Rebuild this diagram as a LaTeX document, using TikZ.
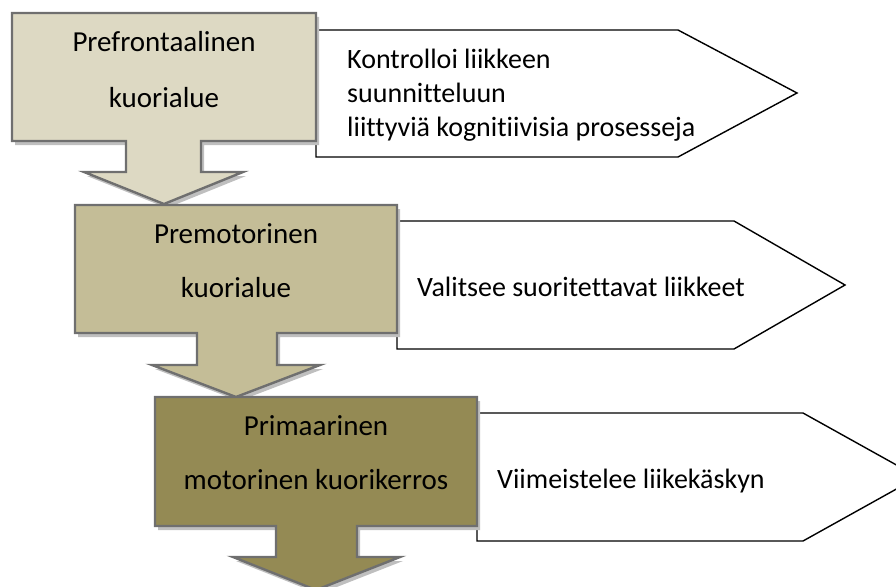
\documentclass[tikz,border=0pt]{standalone}
\usepackage{fontspec}
\setmainfont[Ligatures={NoCommon}]{Carlito}
\usetikzlibrary{shadows}
\definecolor{tanA}{HTML}{DDD9C3}
\definecolor{tanB}{HTML}{C4BD97}
\definecolor{tanC}{HTML}{948A54}
\definecolor{rimgray}{HTML}{6F6F6F}
\tikzset{
  block/.style={draw=rimgray, line width=2.4pt, line join=miter,
    drop shadow={shadow xshift=3pt, shadow yshift=-4pt, fill=black!25, opacity=1, shadow scale=1}},
  callout/.style={draw=black, fill=white, line width=1.4pt, line join=miter},
  boxtext/.style={font=\fontsize{29}{34}\selectfont, anchor=base, inner sep=0pt},
  sidetext/.style={font=\fontsize{28}{34}\selectfont, anchor=base west, inner sep=0pt},
}
\begin{document}
\begin{tikzpicture}[x=1pt, y=-1pt]
\useasboundingbox (0,0) rectangle (896,586);
\clip (0,0) rectangle (896,586);

% side callouts (pointing right), drawn first so the blocks overlap them
\draw[callout] (316,30) -- (678,30) -- (797,93) -- (678,157) -- (316,157) -- cycle;
\draw[callout] (397,221) -- (734,221) -- (845,285) -- (734,349) -- (397,349) -- cycle;
\draw[callout] (477,413) -- (803,413) -- (918,477) -- (803,541) -- (477,541) -- cycle;

% blocks with downward arrows
\filldraw[block, fill=tanA] (12,13) -- (316,13) -- (316,141) -- (201,141) -- (201,172) -- (243,172)
  -- (164,204) -- (84,172) -- (126,172) -- (126,141) -- (12,141) -- cycle;
\filldraw[block, fill=tanB] (75,205) -- (397,205) -- (397,333) -- (277,333) -- (277,365) -- (320,365)
  -- (236,397) -- (152,365) -- (197,365) -- (197,333) -- (75,333) -- cycle;
\filldraw[block, fill=tanC] (155,397) -- (477,397) -- (477,526) -- (357,526) -- (357,557) -- (400,557)
  -- (316,590) -- (233,557) -- (276,557) -- (276,526) -- (155,526) -- cycle;

% block labels
\node[boxtext] (b1a) at (164,52) {Prefrontaalinen};
\node[boxtext] (b1b) at (164,107) {kuorialue};
\node[boxtext] (b2a) at (236,243) {Premotorinen};
\node[boxtext] (b2b) at (236,297) {kuorialue};
\node[boxtext] (b3a) at (316,435) {Primaarinen};
\node[boxtext] (b3b) at (316,489) {motorinen kuorikerros};

% callout labels
\node[sidetext] (c1a) at (347,68) {Kontrolloi liikkeen};
\node[sidetext] (c1b) at (347,102) {suunnitteluun};
\node[sidetext] (c1c) at (347,136) {liittyviä kognitiivisia prosesseja};
\node[sidetext] (c2) at (417,296) {Valitsee suoritettavat liikkeet};
\node[sidetext] (c3) at (497,488) {Viimeistelee liikekäskyn};
\end{tikzpicture}
\end{document}
